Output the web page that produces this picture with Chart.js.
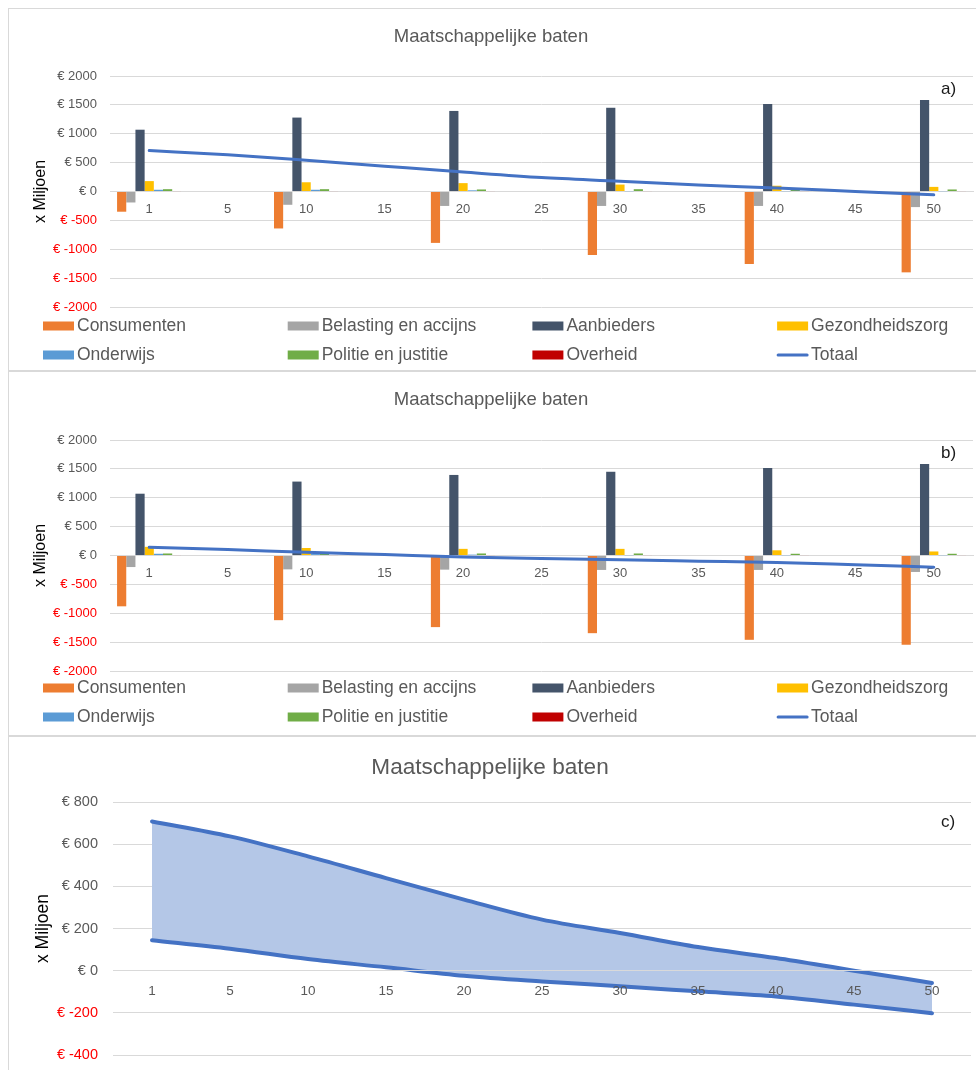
<!DOCTYPE html>
<html>
<head>
<meta charset="utf-8">
<script src="https://cdn.jsdelivr.net/npm/chart.js@4.4.1/dist/chart.umd.min.js"></script>
<style>
  html, body { margin: 0; padding: 0; background: #fff; width: 976px; height: 1070px; overflow: hidden; }
  .panel { position: absolute; left: 8px; width: 1000px; box-sizing: border-box; border: 1px solid #d9d9d9; background: #fff; overflow: hidden; }
  .panel canvas { position: absolute; left: 0; top: 0; }
</style>
</head>
<body>
<div class="panel" style="top:8px;height:363px;"><canvas id="chartA" width="967" height="361"></canvas></div>
<div class="panel" style="top:371px;height:365px;"><canvas id="chartB" width="967" height="363"></canvas></div>
<div class="panel" style="top:736px;height:345px;"><canvas id="chartC" width="981" height="333"></canvas></div>
<script>
// ---------- DATA ----------
const categories = ['1', '5', '10', '15', '20', '25', '30', '35', '40', '45', '50'];
const seriesNames = ['Consumenten', 'Belasting en accijns', 'Aanbieders', 'Gezondheidszorg', 'Onderwijs', 'Politie en justitie', 'Overheid', 'Totaal'];

// Panel a)
const consumentenA = [-350, null, -640, null, -890, null, -1100, null, -1255, null, -1400];
const belastingA   = [-190, null, -230, null, -250, null, -250, null, -250, null, -270];
const aanbiedersA  = [1070, null, 1280, null, 1395, null, 1450, null, 1515, null, 1585];
const gezondheidA  = [180, null, 160, null, 145, null, 120, null, 100, null, 80];
const onderwijsA   = [30, null, 30, null, 20, null, 5, null, 5, null, 5];
const politieA     = [40, null, 40, null, 35, null, 40, null, 35, null, 35];
const overheidA    = [8, null, 8, null, 8, null, 8, null, 8, null, 8];
const totaalA      = [708, 637, 542, 439, 337, 242, 179, 112, 60, 0, -58];

// Panel b)
const consumentenB = [-880, null, -1120, null, -1240, null, -1345, null, -1460, null, -1545];
const belastingB   = [-200, null, -240, null, -245, null, -250, null, -250, null, -285];
const aanbiedersB  = [1070, null, 1280, null, 1395, null, 1450, null, 1515, null, 1585];
const gezondheidB  = [150, null, 130, null, 115, null, 115, null, 90, null, 70];
const onderwijsB   = [30, null, 25, null, 15, null, 5, null, 5, null, 5];
const politieB     = [35, null, 35, null, 35, null, 35, null, 30, null, 30];
const overheidB    = [8, null, 8, null, 8, null, 8, null, 8, null, 8];
const totaalB      = [144, 104, 55, 16, -24, -51, -74, -98, -122, -161, -202];

// Panel c) uses totaalA (upper) and totaalB (lower)

// Axis tick settings
const yTicksAB = { min: -2000, max: 2000, step: 500 };
const yTicksC  = { min: -400, max: 800, step: 200 };

// ---------- STYLE ----------
const FONT = "'Liberation Sans', Arial, sans-serif";
const colors = ['#ED7D31', '#A5A5A5', '#44546A', '#FFC000', '#5B9BD5', '#70AD47', '#C00000', '#4472C4'];
const GRID = '#d9d9d9';
const TXT = '#595959';

Chart.defaults.font.family = FONT;
Chart.defaults.animation = false;

const panelLetter = {
  id: 'panelLetter',
  afterDraw(chart, args, o) {
    if (!o || !o.text) return;
    const ctx = chart.ctx;
    ctx.save();
    ctx.font = o.font;
    ctx.fillStyle = o.color;
    ctx.textAlign = 'left';
    ctx.textBaseline = 'middle';
    ctx.fillText(o.text, o.x, o.y);
    ctx.restore();
  }
};

const gridLegend = {
  id: 'gridLegend',
  afterDraw(chart, args, o) {
    if (!o || !o.display) return;
    const ctx = chart.ctx;
    ctx.save();
    ctx.font = o.font;
    ctx.textAlign = 'left';
    ctx.textBaseline = 'middle';
    chart.data.datasets.forEach((ds, i) => {
      const col = i % o.cols, row = Math.floor(i / o.cols);
      const x = o.x0 + col * o.colW;
      const y = o.y0 + row * o.rowH;
      if (ds.type === 'line') {
        ctx.strokeStyle = ds.borderColor;
        ctx.lineWidth = 3;
        ctx.lineCap = 'round';
        ctx.beginPath();
        ctx.moveTo(x + 1, y);
        ctx.lineTo(x + o.boxW - 1, y);
        ctx.stroke();
      } else {
        ctx.fillStyle = ds.backgroundColor;
        ctx.fillRect(x, y - o.boxH / 2, o.boxW, o.boxH);
      }
      ctx.fillStyle = o.color;
      ctx.fillText(ds.label, x + o.boxW + 3, y);
    });
    ctx.restore();
  }
};

function yScale(t, opts) {
  return {
    min: t.min, max: t.max,
    ticks: {
      stepSize: t.step,
      padding: opts.tickPad,
      color: c => (c.tick && c.tick.value < 0) ? '#FF0000' : TXT,
      font: { size: opts.tickSize },
      callback: v => '€ ' + v
    },
    grid: { color: GRID, lineWidth: 1, drawTicks: false },
    border: { display: false },
    title: { display: true, text: 'x Miljoen', color: '#000', font: { size: opts.titleSize }, padding: { top: opts.titlePad, bottom: 0 } },
    afterFit: s => { s.width = opts.width; s.paddingTop = 0; s.paddingBottom = 0; }
  };
}

function xScale(opts) {
  const z = opts.z || 0;
  return {
    position: { y: 0 },
    offset: true,
    grid: { display: true, color: 'rgba(0,0,0,0)', drawTicks: false },
    border: { display: true, color: GRID, width: 1, z: z },
    ticks: { padding: opts.pad, color: TXT, font: { size: opts.size }, maxRotation: 0, autoSkip: false, z: z }
  };
}

function barPanel(id, series, total, letter, layout) {
  const datasets = series.map((vals, i) => ({
    type: 'bar',
    label: seriesNames[i],
    data: vals,
    backgroundColor: colors[i],
    borderWidth: 0,
    barPercentage: 1.0,
    categoryPercentage: 0.82,
    order: 1
  }));
  datasets.push({
    type: 'line',
    label: seriesNames[7],
    data: total,
    borderColor: colors[7],
    backgroundColor: colors[7],
    borderWidth: 3,
    pointRadius: 0,
    cubicInterpolationMode: 'monotone',
    borderCapStyle: 'round',
    fill: false,
    order: 0
  });
  new Chart(document.getElementById(id), {
    data: { labels: categories, datasets },
    options: {
      responsive: false,
      animation: false,
      layout: { padding: { left: 0, right: 3, top: 0, bottom: layout.bottom } },
      plugins: {
        legend: { display: false },
        tooltip: { enabled: false },
        title: {
          display: true, text: 'Maatschappelijke baten', color: TXT,
          font: { size: 18.5, weight: 'normal' },
          padding: { top: 16.9, bottom: layout.titleBottom }
        },
        panelLetter: { text: letter, x: 932, y: layout.letterY, font: "17px " + FONT, color: '#1a1a1a' },
        gridLegend: { display: true, x0: 34, colW: 244.7, y0: layout.legendY, rowH: 29, cols: 4, boxW: 31, boxH: 9, font: "17.5px " + FONT, color: TXT }
      },
      scales: {
        x: xScale({ pad: 10, size: 13 }),
        y: yScale(yTicksAB, { tickPad: 13, tickSize: 13, titleSize: 16, titlePad: 22.4, width: 101 })
      }
    },
    plugins: [panelLetter, gridLegend]
  });
}

barPanel('chartA',
  [consumentenA, belastingA, aanbiedersA, gezondheidA, onderwijsA, politieA, overheidA],
  totaalA, 'a)',
  { bottom: 63, titleBottom: 27.9, letterY: 80, legendY: 317 });

barPanel('chartB',
  [consumentenB, belastingB, aanbiedersB, gezondheidB, onderwijsB, politieB, overheidB],
  totaalB, 'b)',
  { bottom: 64, titleBottom: 28.9, letterY: 81, legendY: 316 });

new Chart(document.getElementById('chartC'), {
  type: 'line',
  data: {
    labels: categories,
    datasets: [
      { label: 'Totaal a', data: totaalA, borderColor: colors[7], backgroundColor: '#B4C7E7', borderWidth: 4, pointRadius: 0, cubicInterpolationMode: 'monotone', borderCapStyle: 'round', fill: '+1' },
      { label: 'Totaal b', data: totaalB, borderColor: colors[7], backgroundColor: '#B4C7E7', borderWidth: 4, pointRadius: 0, cubicInterpolationMode: 'monotone', borderCapStyle: 'round', fill: false }
    ]
  },
  options: {
    responsive: false,
    animation: false,
    layout: { padding: { left: 0, right: 19, top: 0, bottom: 15 } },
    plugins: {
      legend: { display: false },
      tooltip: { enabled: false },
      filler: { drawTime: 'beforeDatasetsDraw' },
      title: {
        display: true, text: 'Maatschappelijke baten', color: TXT,
        font: { size: 22.6, weight: 'normal' },
        padding: { top: 17.4, bottom: 20.5 }
      },
      panelLetter: { text: 'c)', x: 932, y: 85, font: "17px " + FONT, color: '#1a1a1a' }
    },
    scales: {
      x: xScale({ pad: 13, size: 13.5, z: 1 }),
      y: yScale(yTicksC, { tickPad: 15, tickSize: 14.5, titleSize: 17.5, titlePad: 23.5, width: 104 })
    }
  },
  plugins: [panelLetter]
});
</script>
</body>
</html>
